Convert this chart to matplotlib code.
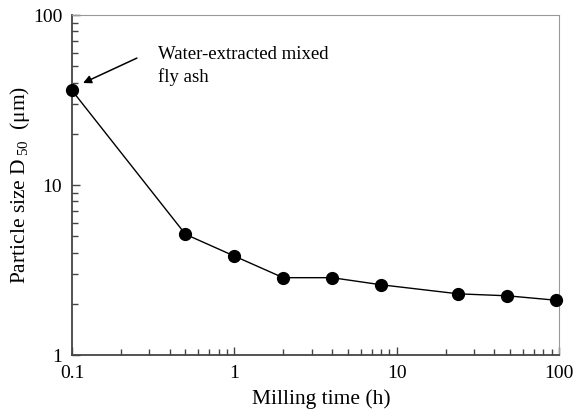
import numpy as np
import matplotlib.pyplot as plt
from matplotlib.ticker import LogLocator, NullFormatter, FixedLocator, FixedFormatter

plt.rcParams['font.family'] = 'Liberation Serif'
plt.rcParams['mathtext.fontset'] = 'custom'
plt.rcParams['mathtext.rm'] = 'Liberation Serif'

#%% data
milling_time = [0.1, 0.5, 1, 2, 4, 8, 24, 48, 96]
d50 = [36.0, 5.13, 3.82, 2.85, 2.85, 2.59, 2.29, 2.23, 2.10]
x_ticks = [0.1, 1, 10, 100]
x_ticklabels = ['0.1', '1', '10', '100']
y_ticks = [1, 10, 100]
y_ticklabels = ['1', '10', '100']

fig = plt.figure(figsize=(5.83, 4.18), dpi=100)
ax = fig.add_axes([0.1235, 0.1507, 0.8353, 0.8134])

ax.plot(milling_time, d50, color='black', lw=1.0, marker='o', ms=8.5,
        markerfacecolor='black', clip_on=False, zorder=3)

ax.set_xscale('log')
ax.set_yscale('log')
ax.set_xlim(0.1, 100)
ax.set_ylim(1, 100)

ax.xaxis.set_major_locator(FixedLocator(x_ticks))
ax.xaxis.set_major_formatter(FixedFormatter(x_ticklabels))
ax.yaxis.set_major_locator(FixedLocator(y_ticks))
ax.yaxis.set_major_formatter(FixedFormatter(y_ticklabels))
for axis in [ax.xaxis, ax.yaxis]:
    axis.set_minor_locator(LogLocator(base=10, subs=np.arange(2, 10)))
    axis.set_minor_formatter(NullFormatter())

ax.tick_params(which='both', direction='in', top=False, right=False,
               labelsize=14, color='#444444')
ax.tick_params(which='major', length=6, width=1)
ax.tick_params(which='minor', length=4, width=1)
ax.tick_params(axis='x', pad=7)
ax.tick_params(axis='y', pad=7)

for side in ['left', 'bottom']:
    ax.spines[side].set_color('#444444')
    ax.spines[side].set_linewidth(1.3)
for side in ['top', 'right']:
    ax.spines[side].set_color('#999999')
    ax.spines[side].set_linewidth(0.8)

ax.set_xlabel('Milling time (h)', fontsize=15.5, labelpad=6)
ax.xaxis.set_label_coords(0.512, -0.1)
ax.set_ylabel(r'Particle size D$_{\,50}$  (μm)', fontsize=15.5, labelpad=1)

ax.text(0.338, 50, 'Water-extracted mixed\nfly ash', fontsize=13.5,
        ha='left', va='center', linespacing=1.4)
ax.annotate('', xy=(0.117, 39.8), xytext=(0.251, 55.8),
            arrowprops=dict(arrowstyle='-|>', color='black', lw=1.1,
                            mutation_scale=12, shrinkA=0, shrinkB=0))

plt.savefig('out.png', dpi=100)
